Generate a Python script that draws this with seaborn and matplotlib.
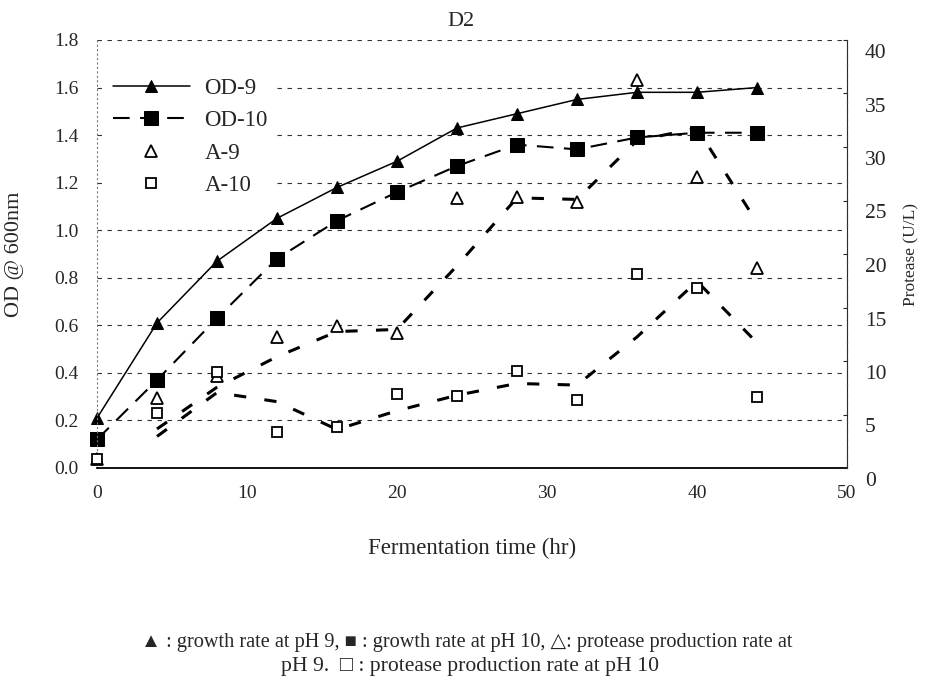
import numpy as np
import pandas as pd
import seaborn as sns
import matplotlib.pyplot as plt
from matplotlib.transforms import ScaledTranslation

# values
time_hr = [0, 4, 8, 12, 16, 20, 24, 28, 32, 36, 40, 44]
od_ph9 = [0.21, 0.61, 0.87, 1.05, 1.18, 1.29, 1.43, 1.49, 1.55, 1.58, 1.58, 1.60]
od_ph10 = [0.12, 0.37, 0.63, 0.88, 1.04, 1.16, 1.27, 1.36, 1.34, 1.39, 1.41, 1.41]
protease_ph9 = [0.8, 6.5, 8.6, 12.2, 13.3, 12.6, 25.2, 25.3, 24.9, 36.3, 27.2, 18.7]
protease_ph10 = [0.8, 5.1, 9.0, 3.4, 3.8, 6.9, 6.7, 9.1, 6.4, 18.1, 16.8, 6.6]

x_ticks = [0, 10, 20, 30, 40, 50]
od_ticks = [0.0, 0.2, 0.4, 0.6, 0.8, 1.0, 1.2, 1.4, 1.6, 1.8]
prot_ticks = [0, 5, 10, 15, 20, 25, 30, 35, 40]

sns.set_style("white")
plt.rcParams["font.family"] = ["Liberation Serif", "DejaVu Serif"]

df = pd.DataFrame({"t": time_hr, "od9": od_ph9, "od10": od_ph10,
                   "a9": protease_ph9, "a10": protease_ph10})
# 2-period moving average trendlines (as in the original spreadsheet chart)
df["a9_ma"] = df["a9"].rolling(2).mean()
df["a10_ma"] = df["a10"].rolling(2).mean()
ma = df.dropna()

fig = plt.figure(figsize=(9.34, 6.79), dpi=100)
ax = fig.add_axes([97 / 934, 1 - 468 / 679, 750 / 934, 428 / 679])
ax2 = ax.twinx()

ax.yaxis.grid(True, linestyle=(0, (4, 5)), color="#333333", lw=0.8)
ax.xaxis.grid(False)
ax.set_axisbelow(True)

sns.lineplot(data=df, x="t", y="od9", ax=ax, color="black", lw=1.1,
             marker="^", markersize=8, markeredgecolor="black",
             errorbar=None, label="OD-9", clip_on=False)
sns.lineplot(data=df, x="t", y="od10", ax=ax, color="black", lw=1.5,
             linestyle=(0, (8, 5)), marker="s", markersize=10,
             markeredgecolor="black", errorbar=None, label="OD-10", clip_on=False)

sns.lineplot(data=ma, x="t", y="a9_ma", ax=ax2, color="black", lw=2.2,
             linestyle=(0, (4, 6)), errorbar=None)
sns.lineplot(data=ma, x="t", y="a10_ma", ax=ax2, color="black", lw=2.2,
             linestyle=(0, (4, 6)), errorbar=None)
sns.lineplot(data=df, x="t", y="a9", ax=ax2, color="black", linestyle="none",
             marker="^", markersize=8, markerfacecolor="white",
             markeredgecolor="black", markeredgewidth=1.3,
             errorbar=None, label="A-9", clip_on=False)
sns.lineplot(data=df, x="t", y="a10", ax=ax2, color="black", linestyle="none",
             marker="s", markersize=7, markerfacecolor="white",
             markeredgecolor="black", markeredgewidth=1.3,
             errorbar=None, label="A-10", clip_on=False)

ax.set_xlim(0, 50)
ax.set_ylim(0, 1.8)
ax2.set_ylim(0, 40)
ax.set_xticks(x_ticks)
ax.set_yticks(od_ticks)
ax.set_yticklabels([f"{v:.1f}" for v in od_ticks])
ax2.set_yticks(prot_ticks)

ax.tick_params(axis="x", direction="in", length=4, pad=12, labelsize=14)
ax.tick_params(axis="y", length=0, pad=13, labelsize=14)
ax2.tick_params(axis="y", direction="in", length=3, pad=13, labelsize=15.5)
for lab in ax2.get_yticklabels():
    lab.set_transform(lab.get_transform() + ScaledTranslation(0, -0.11, fig.dpi_scale_trans))

for a in (ax, ax2):
    a.spines["top"].set_visible(False)
ax.spines["left"].set_linestyle((0, (1, 3)))
ax.spines["left"].set_color("#777777")
ax.spines["left"].set_linewidth(0.8)
ax.spines["bottom"].set_color("black")
ax.spines["bottom"].set_linewidth(1.3)
ax2.spines["left"].set_visible(False)
ax2.spines["bottom"].set_visible(False)
ax2.spines["right"].set_visible(True)
ax2.spines["right"].set_linestyle((0, (4, 4)))
ax2.spines["right"].set_color("#333333")
ax2.spines["right"].set_linewidth(0.8)

ax.set_xlabel("Fermentation time (hr)", fontsize=16.5, labelpad=26)
ax.set_ylabel("OD @ 600nm", fontsize=16, labelpad=22)
ax2.set_ylabel("Protease (U/L)", fontsize=12.5, labelpad=12)
ax.set_title("D2", fontsize=16, pad=10, x=0.485)

h1, l1 = ax.get_legend_handles_labels()
h2, l2 = ax2.get_legend_handles_labels()
if ax.get_legend():
    ax.get_legend().remove()
if ax2.get_legend():
    ax2.get_legend().remove()
# legend sits on a white patch that hides the gridlines behind it
leg = ax2.legend(h1 + h2, l1 + l2, loc="upper left", bbox_to_anchor=(0.009, 0.933),
                 frameon=True, fancybox=False, framealpha=1, facecolor="white",
                 edgecolor="none", fontsize=16.5, handlelength=3.35,
                 handletextpad=0.65, labelspacing=0.5, borderaxespad=0,
                 borderpad=0.4)

fig.text(0.5, 1 - 642 / 679,
         "\u25B2 : growth rate at pH 9, \u25A0 : growth rate at pH 10, \u25B3: protease production rate at",
         ha="center", va="center", fontsize=14.6)
fig.text(0.503, 1 - 666 / 679, "pH 9.  \u25A1 : protease production rate at pH 10",
         ha="center", va="center", fontsize=15.6)

fig.savefig("out.png", dpi=100)
